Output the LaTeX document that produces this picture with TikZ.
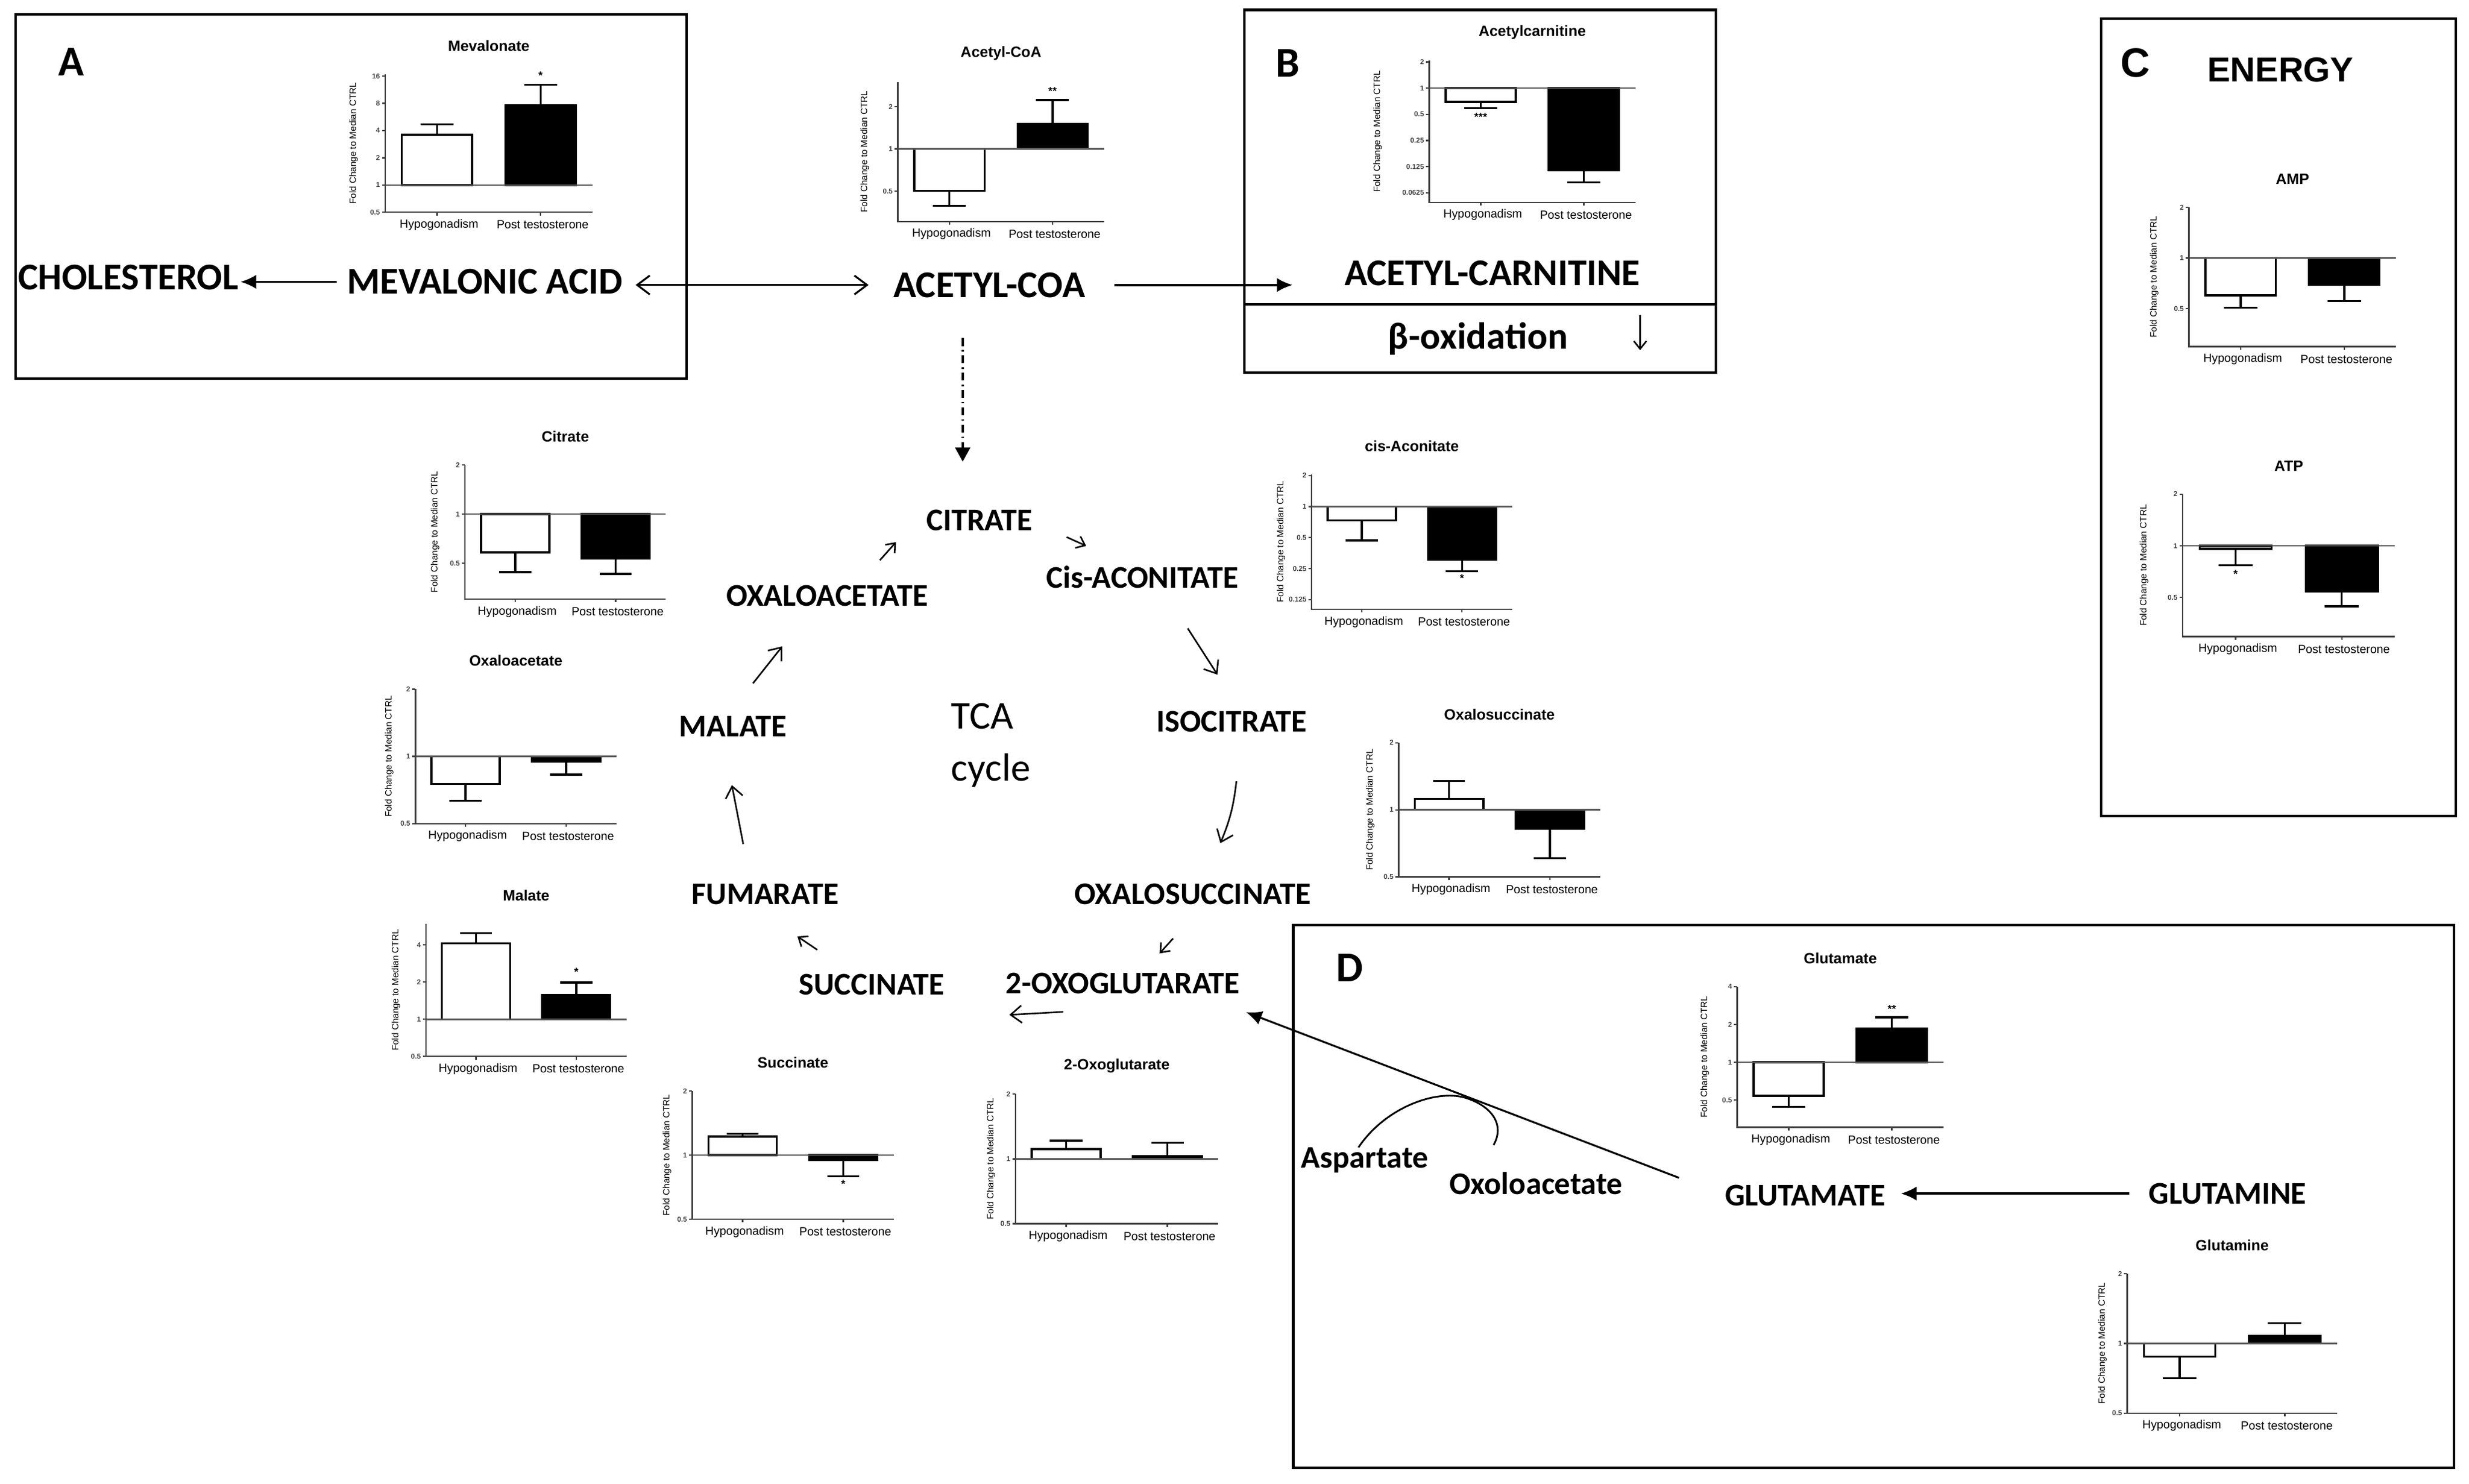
\documentclass[tikz,border=0pt]{standalone}
\usepackage{fontspec}
\setmainfont{Carlito}
\newfontfamily\chartfont{Liberation Sans}
\usetikzlibrary{arrows.meta, positioning}

% axes of one bar chart, in chart units (x: 0..1, y: log2 of fold change)
\newcommand{\chartframe}[5]{%
  \draw[refline] (0,0) -- (1,0);
  \draw[axisline] (0,#1) -- (0,#2) -- (1,#2);
  \draw[axisline] (0.25,#2) -- ++(0,-2pt) (0.75,#2) -- ++(0,-2pt);
  \foreach \tv/\tl in {#4} {\draw[axisline] (0,\tv) -- ++(-2pt,0) node[ticklabel] {\tl};}
  \node[catlabel] at (0.26,#2) {Hypogonadism};
  \node[catlabel] at (0.76,#2) {Post testosterone};
  \node[xshift=-#5, foldlabel] at (0,{(#1+#2)/2}) {Fold Change to Median CTRL};
  \node[charttitle] at (0.5,#1) {#3};
}
\newcommand{\twobars}[4]{%
  \draw[wbar] (0.08,0) rectangle (0.42,#1);
  \draw[errbar] (0.25,#1) -- (0.25,#2) (0.17,#2) -- (0.33,#2);
  \draw[bbar] (0.58,0) rectangle (0.92,#3);
  \draw[errbar] (0.75,#3) -- (0.75,#4) (0.67,#4) -- (0.83,#4);
}

\begin{document}
\begin{tikzpicture}[x=1pt, y=-1pt,
    bigmetab/.style={font=\bfseries\fontsize{24}{28}\selectfont, inner sep=0pt},
    metab/.style={font=\bfseries\fontsize{20}{24}\selectfont, inner sep=0pt},
    tca/.style={font=\fontsize{25}{33}\selectfont, align=left, inner sep=0pt},
    panel/.style={font=\bfseries\fontsize{27}{30}\selectfont, inner sep=0pt},
    energy/.style={font=\chartfont\bfseries\fontsize{22}{26}\selectfont, inner sep=0pt},
    panelbox/.style={draw, line width=1.6pt},
    mainflow/.style={-{Latex[length=10pt,width=9pt]}, line width=1.4pt},
    dualflow/.style={{Straight Barb[length=8pt,width=12pt]}-{Straight Barb[length=8pt,width=12pt]}, line width=1.2pt},
    tcaflow/.style={-{Straight Barb[length=7pt,width=11pt]}, line width=1pt},
    smallflow/.style={-{Straight Barb[length=5pt,width=8pt]}, line width=1pt},
    dashflow/.style={-{Triangle[length=9pt,width=9.5pt]}, line width=1.3pt,
                     dash pattern=on 5pt off 2.5pt on 1pt off 2.5pt},
    wbar/.style={draw=black, line width=1.3pt, fill=white},
    bbar/.style={draw=black, line width=1.3pt, fill=black},
    errbar/.style={line width=1.3pt},
    refline/.style={line width=1pt, black!65},
    axisline/.style={line width=0.9pt, black!75},
    ticklabel/.style={anchor=east, inner sep=0.8pt, font=\chartfont\bfseries\fontsize{4.5}{5}\selectfont},
    catlabel/.style={yshift=-8pt, inner sep=0pt, font=\chartfont\fontsize{7.5}{9}\selectfont},
    foldlabel/.style={rotate=90, inner sep=0pt, font=\chartfont\fontsize{5.8}{7}\selectfont},
    charttitle/.style={yshift=18pt, inner sep=0pt, font=\chartfont\bfseries\fontsize{9.5}{11}\selectfont},
    sig/.style={inner sep=0.5pt, font=\chartfont\bfseries\fontsize{7}{8}\selectfont}
]
    \useasboundingbox (0,0) rectangle (1568,942.1);

    % panels
    \draw[panelbox] (10,9) rectangle (436,240.5);
    \draw[panelbox] (790.4,6.3) rectangle (1089.6,236.6);
    \draw[panelbox] (790.4,193.2) -- (1089.6,193.2);
    \draw[panelbox] (1334.5,11.9) rectangle (1559.5,518.2);
    \draw[panelbox] (821.3,587.6) rectangle (1558.4,932.1);
    \node[panel] (la) at (45.1,39.4) {A};
    \node[panel] (lb) at (817.7,40.2) {B};
    \node[energy, font=\chartfont\bfseries\fontsize{26}{30}\selectfont] (lc) at (1356,40.1) {C};
    \node[panel] (ld) at (857,614.6) {D};
    \node[energy] (energy) at (1448.3,44.2) {ENERGY};

    % metabolites
    \node[bigmetab] (chol) at (81.5,176) {CHOLESTEROL};
    \node[bigmetab] (mev) at (308,179) {MEVALONIC ACID};
    \node[bigmetab] (acoa) at (628.4,181) {ACETYL-COA};
    \node[bigmetab] (acarn) at (947.7,173.5) {ACETYL-CARNITINE};
    \node[bigmetab] (betaox) at (938.6,215) {β-oxidation};
    \node[metab] (citrate) at (622,330.5) {CITRATE};
    \node[metab] (cisacon) at (725.5,366.6) {Cis-ACONITATE};
    \node[metab] (isocit) at (782.2,458.3) {ISOCITRATE};
    \node[metab] (oxsuc) at (757.5,567.9) {OXALOSUCCINATE};
    \node[metab] (oxoglu) at (713.1,624.4) {2-OXOGLUTARATE};
    \node[metab] (succ) at (553.6,625.4) {SUCCINATE};
    \node[metab] (fum) at (486,568) {FUMARATE};
    \node[metab] (mal) at (465.6,461.2) {MALATE};
    \node[metab] (oaa) at (525.3,378.5) {OXALOACETATE};
    \node[tca, anchor=north west] (tcacycle) at (604,446.6) {TCA\\cycle};
    \node[metab] (glu) at (1146.4,759.1) {GLUTAMATE};
    \node[metab] (gln) at (1414.7,758) {GLUTAMINE};
    \node[metab] (asp) at (866.7,737) {Aspartate};
    \node[metab] (oxo) at (975.5,751.5) {Oxoloacetate};

    % connectors
    \draw[mainflow, shorten <=6.5pt, shorten >=1pt] (mev.west) -- (mev.west -| chol.east);
    \draw[dualflow, shorten <=8pt, shorten >=15.6pt] (acoa.west -| mev.east) -- (acoa.west);
    \draw[mainflow, shorten <=18pt, shorten >=32.7pt] (acoa.east) -- (acoa.east -| acarn.west);
    \coordinate (acoadown) at ([xshift=-17pt]acoa.south);
    \draw[dashflow, shorten <=25.6pt, shorten >=30.5pt] (acoadown) -- (acoadown |- citrate.north);
    \coordinate (bdowna) at (1041.6,200.3);
    \coordinate (bdownb) at (1041.6,222.4);
    \draw[smallflow] (bdowna) -- (bdownb);
    \draw[mainflow, shorten <=12.3pt, shorten >=9.6pt] (gln.west) -- (gln.west -| glu.east);
    \coordinate (oxoin) at ([yshift=-17pt]oxoglu.east);
    \draw[mainflow, line width=1.2pt, shorten <=31pt, shorten >=4pt] (glu.west) -- (oxoin);
    \draw[line width=1.1pt] ([xshift=-4pt]asp.north) .. controls (880,703) and (912,692) .. (930,697)
        .. controls (947,702) and (956,714) .. ([xshift=-27pt,yshift=17pt]oxo.north);

    % TCA cycle steps
    \coordinate (ta1) at (558.8,355.8); \coordinate (tb1) at (569,344.3);
    \coordinate (ta2) at (677.4,341.1); \coordinate (tb2) at (689.8,346.7);
    \coordinate (ta3) at (754.3,399.1); \coordinate (tb3) at (773.2,428.5);
    \coordinate (ta4) at (785.2,496.2); \coordinate (tb4) at (775,535.5);
    \coordinate (ta5) at (745,596);     \coordinate (tb5) at (736.4,605.5);
    \coordinate (ta6) at (675.2,642.6); \coordinate (tb6) at (641,644.5);
    \coordinate (ta7) at (519,603.2);   \coordinate (tb7) at (506.4,594.7);
    \coordinate (ta8) at (472,536);     \coordinate (tb8) at (464.8,498.6);
    \coordinate (ta9) at (478.2,434);   \coordinate (tb9) at (496.8,410.5);
    \draw[smallflow] (ta1) -- (tb1);
    \draw[smallflow] (ta2) -- (tb2);
    \draw[tcaflow] (ta3) -- (tb3);
    \draw[tcaflow] (ta4) to[bend left=8] (tb4);
    \draw[smallflow] (ta5) -- (tb5);
    \draw[tcaflow] (ta6) -- (tb6);
    \draw[smallflow] (ta7) -- (tb7);
    \draw[tcaflow] (ta8) -- (tb8);
    \draw[tcaflow] (ta9) -- (tb9);

    % bar charts
    \begin{scope}[shift={(244.6,117.5)}, x=131.6pt, y=17.3pt]
        \twobars{1.84}{2.23}{2.92}{3.68}
        \chartframe{4.06}{-1}{Mevalonate}{4/16,3/8,2/4,1/2,0/1,-1/0.5}{20pt}
        \node[sig] (sigmev) at (0.75,4.01) {*};
    \end{scope}
    \begin{scope}[shift={(570.2,94.6)}, x=131pt, y=26.8pt]
        \twobars{-0.99}{-1.35}{0.6}{1.16}
        \chartframe{1.59}{-1.72}{Acetyl-CoA}{1/2,0/1,-1/0.5}{21pt}
        \node[sig] (sigacoa) at (0.75,1.37) {**};
    \end{scope}
    \begin{scope}[shift={(907.6,56)}, x=131pt, y=16.6pt]
        \twobars{-0.52}{-0.76}{-3.14}{-3.6}
        \chartframe{1.05}{-4.37}{Acetylcarnitine}{1/2,0/1,-1/0.5,-2/0.25,-3/0.125,-4/0.0625}{32.7pt}
        \node[sig] (sigacarn) at (0.25,-1.09) {***};
    \end{scope}
    \begin{scope}[shift={(1390.1,163.8)}, x=131.6pt, y=32.2pt]
        \twobars{-0.74}{-0.98}{-0.53}{-0.85}
        \chartframe{1}{-1.75}{AMP}{1/2,0/1,-1/0.5}{22pt}
    \end{scope}
    \begin{scope}[shift={(1386.1,346.6)}, x=134.8pt, y=32.8pt]
        \twobars{-0.06}{-0.38}{-0.88}{-1.17}
        \chartframe{1}{-1.76}{ATP}{1/2,0/1,-1/0.5}{24.5pt}
        \node[sig] (sigatp) at (0.25,-0.55) {*};
    \end{scope}
    \begin{scope}[shift={(295.3,326.5)}, x=127.5pt, y=31.2pt]
        \twobars{-0.78}{-1.18}{-0.9}{-1.22}
        \chartframe{1}{-1.73}{Citrate}{1/2,0/1,-1/0.5}{19pt}
    \end{scope}
    \begin{scope}[shift={(263.8,480.4)}, x=127.6pt, y=42.7pt]
        \twobars{-0.41}{-0.66}{-0.08}{-0.27}
        \chartframe{1}{-1}{Oxaloacetate}{1/2,0/1,-1/0.5}{16.6pt}
    \end{scope}
    \begin{scope}[shift={(270.5,647.3)}, x=127.3pt, y=23.6pt]
        \twobars{2.04}{2.32}{0.65}{0.99}
        \chartframe{2.57}{-1}{Malate}{2/4,1/2,0/1,-1/0.5}{19pt}
        \node[sig] (sigmal) at (0.75,1.27) {*};
    \end{scope}
    \begin{scope}[shift={(833,321.7)}, x=127.3pt, y=19.7pt]
        \twobars{-0.44}{-1.09}{-1.72}{-2.09}
        \chartframe{1.04}{-3.31}{cis-Aconitate}{1/2,0/1,-1/0.5,-2/0.25,-3/0.125}{19.5pt}
        \node[sig] (sigcis) at (0.75,-2.31) {*};
    \end{scope}
    \begin{scope}[shift={(888.2,514.3)}, x=128.1pt, y=42.6pt]
        \twobars{0.16}{0.43}{-0.28}{-0.72}
        \chartframe{1}{-1}{Oxalosuccinate}{1/2,0/1,-1/0.5}{18pt}
    \end{scope}
    \begin{scope}[shift={(439.6,733.6)}, x=127.9pt, y=40.7pt]
        \twobars{0.29}{0.33}{-0.08}{-0.33}
        \chartframe{1}{-1}{Succinate}{1/2,0/1,-1/0.5}{16pt}
        \node[sig] (sigsuc) at (0.75,-0.45) {*};
    \end{scope}
    \begin{scope}[shift={(644.9,736)}, x=128.7pt, y=41.2pt]
        \twobars{0.15}{0.28}{0.04}{0.25}
        \chartframe{1}{-1}{2-Oxoglutarate}{1/2,0/1,-1/0.5}{15.5pt}
    \end{scope}
    \begin{scope}[shift={(1103.2,674.6)}, x=131pt, y=24pt]
        \twobars{-0.89}{-1.18}{0.9}{1.19}
        \chartframe{2}{-1.72}{Glutamate}{2/4,1/2,0/1,-1/0.5}{20.6pt}
        \node[sig] (sigglu) at (0.75,1.41) {**};
    \end{scope}
    \begin{scope}[shift={(1350.9,853.2)}, x=133.4pt, y=44.3pt]
        \twobars{-0.19}{-0.5}{0.11}{0.29}
        \chartframe{1}{-1}{Glutamine}{1/2,0/1,-1/0.5}{15.7pt}
    \end{scope}

\end{tikzpicture}
\end{document}
